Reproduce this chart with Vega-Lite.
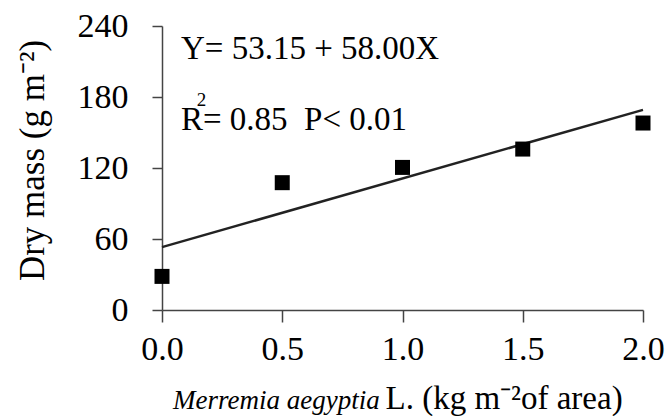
{
  "$schema": "https://vega.github.io/schema/vega-lite/v6.json",
  "autosize": {"type": "none"},
  "width": 481,
  "height": 284,
  "padding": {"left": 162, "top": 26, "right": 27, "bottom": 106},
  "background": "white",
  "config": {
    "view": {"stroke": null},
    "font": "Liberation Serif, Times New Roman, serif",
    "axis": {
      "grid": false,
      "domainColor": "#444",
      "domainWidth": 1.5,
      "tickColor": "#444",
      "tickWidth": 1.5,
      "labelFont": "Liberation Serif, Times New Roman, serif",
      "labelColor": "#000",
      "titleFont": "Liberation Serif, Times New Roman, serif",
      "titleColor": "#000",
      "titleFontWeight": "normal"
    }
  },
  "datasets": {
    "obs": [
      {"dose": 0.0, "mass": 28.4},
      {"dose": 0.5, "mass": 107.6},
      {"dose": 1.0, "mass": 120.5},
      {"dose": 1.5, "mass": 136.0},
      {"dose": 2.0, "mass": 158.0}
    ],
    "fit": [
      {"dose": 0.0, "mass": 53.15},
      {"dose": 2.0, "mass": 169.15}
    ]
  },
  "layer": [
    {
      "data": {"name": "fit"},
      "mark": {"type": "line", "color": "#222", "strokeWidth": 2.5},
      "encoding": {
        "x": {
          "field": "dose",
          "type": "quantitative",
          "scale": {"domain": [0, 2], "nice": false, "zero": false},
          "axis": {
            "values": [0, 0.5, 1, 1.5, 2],
            "format": ".1f",
            "tickSize": 12,
            "labelFontSize": 34,
            "labelPadding": 10,
            "labelFlush": false,
            "labelOverlap": false,
            "title": "L. (kg m⁻²of area)",
            "titleFontSize": 33,
            "titleAnchor": "start",
            "titleAlign": "left",
            "titleBaseline": "alphabetic",
            "titleX": 223,
            "titleY": 98
          }
        },
        "y": {
          "field": "mass",
          "type": "quantitative",
          "scale": {"domain": [0, 240], "nice": false},
          "axis": {
            "values": [0, 60, 120, 180, 240],
            "tickSize": 10,
            "labelFontSize": 34,
            "labelPadding": 24,
            "labelBaseline": "middle",
            "title": "Dry mass (g m⁻²)",
            "titleFontSize": 35,
            "titleAngle": -90,
            "titleAlign": "center",
            "titleBaseline": "alphabetic",
            "titleX": -119,
            "titleY": 134
          }
        }
      }
    },
    {
      "data": {"name": "obs"},
      "mark": {"type": "point", "shape": "square", "filled": true, "color": "#000", "opacity": 1, "size": 225},
      "encoding": {
        "x": {"field": "dose", "type": "quantitative"},
        "y": {"field": "mass", "type": "quantitative"}
      }
    },
    {
      "data": {"values": [{"note": "Y= 53.15 + 58.00X"}]},
      "mark": {"type": "text", "align": "left", "baseline": "alphabetic", "fontSize": 33, "font": "Liberation Serif, Times New Roman, serif", "color": "#000"},
      "encoding": {
        "text": {"field": "note"},
        "x": {"datum": 0.079, "type": "quantitative"},
        "y": {"datum": 211.9, "type": "quantitative"}
      }
    },
    {
      "data": {"values": [{"note": "R= 0.85\u00a0\u00a0P< 0.01"}]},
      "mark": {"type": "text", "align": "left", "baseline": "alphabetic", "fontSize": 33, "font": "Liberation Serif, Times New Roman, serif", "color": "#000"},
      "encoding": {
        "text": {"field": "note"},
        "x": {"datum": 0.079, "type": "quantitative"},
        "y": {"datum": 152.2, "type": "quantitative"}
      }
    },
    {
      "data": {"values": [{"note": "2"}]},
      "mark": {"type": "text", "align": "left", "baseline": "alphabetic", "fontSize": 19, "font": "Liberation Serif, Times New Roman, serif", "color": "#000"},
      "encoding": {
        "text": {"field": "note"},
        "x": {"datum": 0.144, "type": "quantitative"},
        "y": {"datum": 172.5, "type": "quantitative"}
      }
    },
    {
      "data": {"values": [{"note": "Merremia aegyptia"}]},
      "mark": {"type": "text", "align": "right", "baseline": "alphabetic", "fontSize": 27, "fontStyle": "italic", "font": "Liberation Serif, Times New Roman, serif", "color": "#000"},
      "encoding": {
        "text": {"field": "note"},
        "x": {"datum": 0.905, "type": "quantitative"},
        "y": {"datum": -83.3, "type": "quantitative"}
      }
    }
  ]
}
